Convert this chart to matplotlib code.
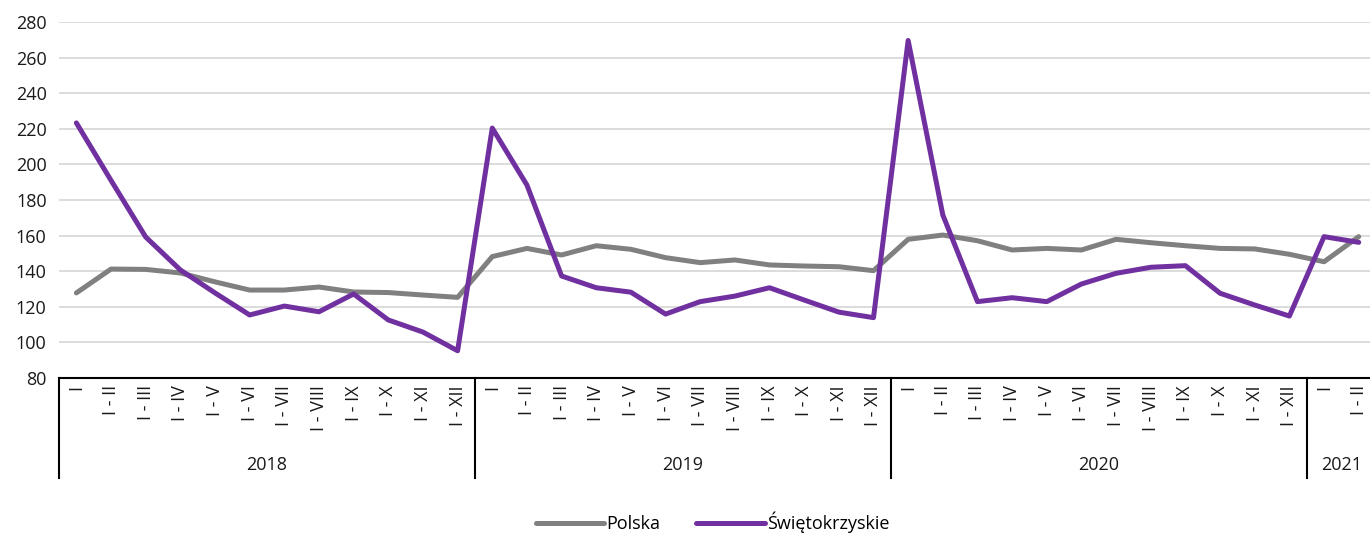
"""
Polska vs Świętokrzyskie - line chart with two-level category axis.
"""

import matplotlib
matplotlib.use("Agg")
import matplotlib.pyplot as plt
from matplotlib.transforms import blended_transform_factory

# Data
years = ["2018", "2019", "2020", "2021"]
months_per_year = [12, 12, 12, 2]
month_labels = ["I", "I - II", "I - III", "I - IV", "I - V", "I - VI",
                "I - VII", "I - VIII", "I - IX", "I - X", "I - XI", "I - XII"]

polska = [127.8, 141.2, 141.0, 139.0, 134.0, 129.4, 129.4, 131.1, 128.3, 128.0, 126.6, 125.3,
          148.2, 152.8, 149.1, 154.3, 152.3, 147.6, 144.8, 146.3, 143.5, 142.9, 142.5, 140.3,
          157.9, 160.3, 157.1, 151.9, 152.8, 151.9, 157.9, 156.0, 154.3, 152.8, 152.5, 149.5,
          145.3, 159.4]
swietokrzyskie = [223.3, 191.0, 159.2, 140.7, 127.8, 115.4, 120.4, 117.2, 127.2, 112.6, 105.8, 95.3,
                  220.4, 188.4, 137.3, 130.7, 128.2, 115.9, 122.9, 126.0, 130.7, 123.8, 117.0, 113.9,
                  269.6, 171.6, 122.9, 125.1, 122.9, 132.8, 138.8, 142.2, 143.1, 127.6, 121.0, 114.8,
                  159.4, 156.2]

GREY = "#808080"
PURPLE = "#7030a0"


def main():
    plt.rcParams["font.family"] = ["Open Sans", "DejaVu Sans"]
    fig = plt.figure(figsize=(13.7, 5.36), dpi=100)
    ax = fig.add_axes([0.0431, 0.2948, 0.9613, 0.6642])

    cats = []
    for n in months_per_year:
        cats += month_labels[:n]
    x = list(range(len(cats)))

    ax.plot(x, polska, color=GREY, lw=3.6, label="Polska", solid_capstyle="round")
    ax.plot(x, swietokrzyskie, color=PURPLE, lw=3.6, label="Świętokrzyskie",
            solid_capstyle="round")

    ax.set_xlim(-0.5, len(cats) - 0.5)
    ax.set_ylim(80, 280)
    ax.set_yticks(range(80, 281, 20))
    ax.tick_params(axis="y", length=0, labelsize=13, pad=9, colors="#1a1a1a")
    ax.grid(axis="y", color="#d9d9d9", lw=1.3)
    ax.set_axisbelow(True)
    for s in ["top", "right", "left"]:
        ax.spines[s].set_visible(False)
    ax.spines["bottom"].set_color("black")
    ax.spines["bottom"].set_linewidth(1.5)

    # month labels, rotated
    ax.set_xticks(x)
    ax.set_xticklabels([])
    ax.tick_params(axis="x", length=0)
    trans = blended_transform_factory(ax.transData, ax.transAxes)
    for xi, lab in zip(x, cats):
        ax.text(xi, -0.02, lab, rotation=90, ha="center", va="top",
                fontsize=13, transform=trans, color="#1a1a1a")

    # year separators and labels
    start = 0
    bounds = [-0.5]
    for yr, n in zip(years, months_per_year):
        end = start + n
        bounds.append(end - 0.5)
        ax.text((start + end - 1) / 2, -0.245, yr, ha="center", va="center",
                fontsize=13, transform=trans, color="#1a1a1a")
        start = end
    for b in bounds[:-1]:
        ax.plot([b, b], [0, -0.28], color="black", lw=1.5, transform=trans,
                clip_on=False)

    fig.legend(loc="lower center", ncol=2, frameon=False, fontsize=13,
               bbox_to_anchor=(0.52, -0.025), handlelength=3.8, handletextpad=0.1,
               columnspacing=2.0)

    fig.savefig("out.png", dpi=100)


if __name__ == "__main__":
    main()
